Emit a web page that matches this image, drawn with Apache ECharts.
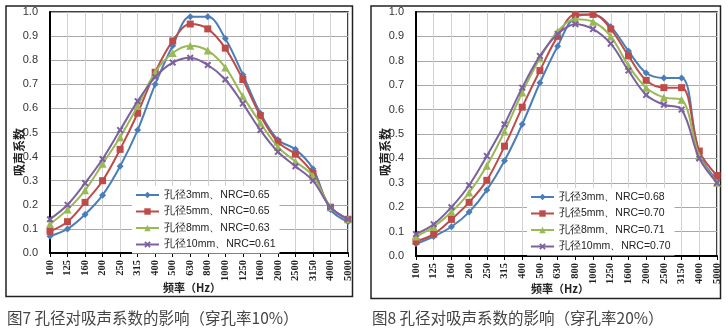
<!DOCTYPE html>
<html><head><meta charset="utf-8">
<script src="https://cdn.jsdelivr.net/npm/echarts@6/dist/echarts.min.js"></script>
<style>html,body{margin:0;padding:0;background:#fff}#c{width:728px;height:332px}</style>
</head><body><div id="c"></div>
<script>
const categories = ['100','125','160','200','250','315','400','500','630','800','1000','1250','1600','2000','2500','3150','4000','5000'];
const yTicks = [0,0.1,0.2,0.3,0.4,0.5,0.6,0.7,0.8,0.9,1.0];

const leftNames = ['孔径3mm、NRC=0.65','孔径5mm、NRC=0.65','孔径8mm、NRC=0.63','孔径10mm、NRC=0.61'];
const left3mm  = [0.07,0.10,0.16,0.24,0.36,0.51,0.70,0.86,0.98,0.98,0.89,0.74,0.58,0.47,0.43,0.35,0.18,0.13];
const left5mm  = [0.09,0.13,0.21,0.30,0.43,0.58,0.75,0.88,0.95,0.93,0.85,0.72,0.57,0.46,0.41,0.33,0.19,0.14];
const left8mm  = [0.12,0.18,0.26,0.37,0.48,0.61,0.75,0.83,0.86,0.84,0.77,0.65,0.54,0.44,0.38,0.32,0.19,0.14];
const left10mm = [0.14,0.20,0.29,0.39,0.51,0.63,0.73,0.79,0.81,0.78,0.72,0.62,0.51,0.42,0.36,0.30,0.19,0.14];

const rightNames = ['孔径3mm、NRC=0.68','孔径5mm、NRC=0.70','孔径8mm、NRC=0.71','孔径10mm、NRC=0.70'];
const right3mm  = [0.05,0.08,0.12,0.18,0.27,0.39,0.54,0.71,0.86,0.98,0.99,0.94,0.84,0.75,0.73,0.73,0.42,0.31];
const right5mm  = [0.06,0.09,0.15,0.22,0.31,0.45,0.61,0.76,0.90,0.99,0.99,0.93,0.82,0.72,0.69,0.69,0.43,0.33];
const right8mm  = [0.08,0.12,0.18,0.26,0.37,0.51,0.67,0.81,0.92,0.97,0.96,0.90,0.78,0.69,0.65,0.64,0.41,0.30];
const right10mm = [0.09,0.13,0.20,0.29,0.41,0.54,0.69,0.82,0.91,0.95,0.93,0.87,0.76,0.66,0.62,0.60,0.40,0.30];

const captionLeft = '图7 孔径对吸声系数的影响（穿孔率10%）';
const captionRight = '图8 孔径对吸声系数的影响（穿孔率20%）';
const yName = '吸声系数';
const xName = '频率（Hz）';

const colors = ['#4A7EBB','#BE4B48','#98B954','#7D60A0'];
const symbols = ['diamond','rect','triangle','path://M2,0L5,3L8,0L10,2L7,5L10,8L8,10L5,7L2,10L0,8L3,5L0,2Z'];
const symSizes = [7,7,8,7];

function xAxis(gi){
  return {
    type:'category', gridIndex:gi, data:categories, boundaryGap:false,
    axisLine:{show:true,lineStyle:{color:'#000',width:2}},
    axisTick:{show:true,length:4,lineStyle:{color:'#000'}},
    axisLabel:{rotate:90,interval:0,margin:7,fontFamily:'Liberation Serif',fontWeight:'bold',fontSize:10.5,color:'#222'},
    splitLine:{show:true,lineStyle:{color:'#D2D2D2',width:1}}
  };
}
function yAxis(gi){
  return {
    type:'value', gridIndex:gi, min:0, max:1, interval:0.1,
    axisLine:{show:true,lineStyle:{color:'#000',width:2}},
    axisTick:{show:false},
    axisLabel:{margin:12,fontFamily:'Liberation Sans',fontSize:11,color:'#333',formatter:v=>v.toFixed(1)},
    splitLine:{show:true,lineStyle:{color:'#A8A8A8',width:1}}
  };
}
function mkSeries(names, datas, gi){
  return datas.map((d,i)=>({
    name:names[i], type:'line', xAxisIndex:gi, yAxisIndex:gi, data:d,
    smooth:0.35, symbol:symbols[i], symbolSize:symSizes[i], showSymbol:true,
    lineStyle:{color:colors[i],width:2}, itemStyle:{color:colors[i]},
    emphasis:{disabled:true}, animation:false, z:2+i
  }));
}
function legend(names,left,top){
  return {
    data:names, orient:'vertical', left:left, top:top, itemWidth:23, itemHeight:8, itemGap:4.5,
    backgroundColor:'#fff', padding:[3,4,3,3], selectedMode:false,
    textStyle:{fontFamily:'Liberation Sans',fontSize:10.5,color:'#222',lineHeight:12}
  };
}

const chart = echarts.init(document.getElementById('c'));
chart.setOption({
  animation:false,
  grid:[
    {left:50,top:12,width:298,height:241,show:true,borderColor:'#000',borderWidth:1.5,backgroundColor:'transparent'},
    {left:416,top:12,width:301,height:244,show:true,borderColor:'#000',borderWidth:1.5,backgroundColor:'transparent'}
  ],
  xAxis:[xAxis(0),xAxis(1)],
  yAxis:[yAxis(0),yAxis(1)],
  legend:[legend(leftNames,132,186),legend(rightNames,527,188)],
  series:[...mkSeries(leftNames,[left3mm,left5mm,left8mm,left10mm],0),
          ...mkSeries(rightNames,[right3mm,right5mm,right8mm,right10mm],1)],
  graphic:[
    {type:'rect',shape:{x:6,y:6,width:346.5,height:290.5},style:{fill:'none',stroke:'#222',lineWidth:1.5},z:-1},
    {type:'rect',shape:{x:371,y:6,width:349.5,height:292.5},style:{fill:'none',stroke:'#222',lineWidth:1.5},z:-1},
    {type:'text',x:19,y:152,rotation:Math.PI/2,style:{text:yName,font:'bold 12px "Noto Sans CJK SC"',fill:'#222',align:'center',verticalAlign:'middle'}},
    {type:'text',x:385,y:152,rotation:Math.PI/2,style:{text:yName,font:'bold 12px "Noto Sans CJK SC"',fill:'#222',align:'center',verticalAlign:'middle'}},
    {type:'text',x:192,y:288,style:{text:xName,font:'bold 11px "Noto Sans CJK SC"',fill:'#222',align:'center',verticalAlign:'middle'}},
    {type:'text',x:560,y:289,style:{text:xName,font:'bold 11px "Noto Sans CJK SC"',fill:'#222',align:'center',verticalAlign:'middle'}},
    {type:'text',x:7,y:318,style:{text:captionLeft,font:'15.5px "Noto Sans CJK SC"',fill:'#444',verticalAlign:'middle'}},
    {type:'text',x:372,y:318,style:{text:captionRight,font:'15.5px "Noto Sans CJK SC"',fill:'#444',verticalAlign:'middle'}}
  ]
});
</script></body></html>
